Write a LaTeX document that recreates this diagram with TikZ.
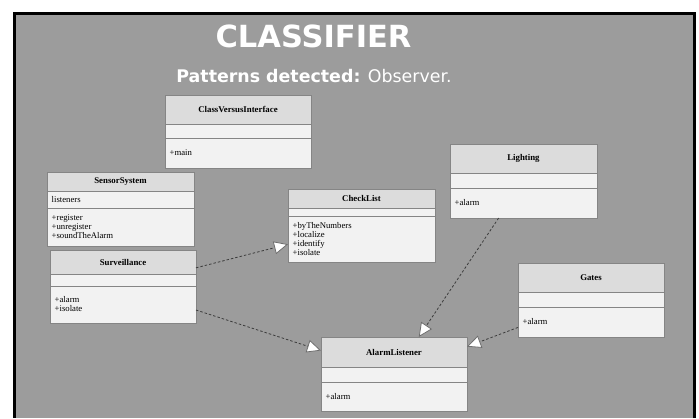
\documentclass[tikz,border=0pt]{standalone}
\usepackage{fontspec}
\setmainfont{Liberation Serif}
\newfontfamily\headfont{DejaVu Sans}
\usetikzlibrary{arrows.meta}

\definecolor{pagebg}{HTML}{9C9C9C}
\definecolor{headfill}{HTML}{DCDCDC}
\definecolor{partfill}{HTML}{F2F2F2}
\definecolor{boxline}{HTML}{858585}
\definecolor{linkline}{HTML}{3C3C3C}
\definecolor{tipline}{HTML}{6E6E6E}

\tikzset{
  umlbase/.style={rectangle, inner sep=0pt, outer sep=0pt, anchor=north west,
    draw=boxline, line width=0.8pt},
  umlhead/.style={umlbase, fill=headfill, font=\fontsize{8.8}{9}\selectfont\bfseries},
  umlpart/.style={umlbase, fill=partfill},
  umlouter/.style={rectangle, inner sep=0pt, outer sep=0pt, anchor=north west,
    draw=boxline, line width=0.8pt},
  umltext/.style={anchor=west, inner sep=0pt, align=left,
    font=\fontsize{8.7}{9}\selectfont},
  realize/.style={draw=linkline, line width=0.8pt, dash pattern=on 2.5pt off 2pt,
    -{Triangle[length=14pt, width=13pt, fill=white, color=tipline, line width=0.8pt]}},
}

% #1 name, #2 top-left corner, #3 width, #4/#5/#6 compartment heights,
% #7 class name, #8 attributes, #9 operations
\newcommand\umlclass[9]{%
  \pgfmathsetmacro\umltotal{#4+#5+#6}%
  \node[umlhead, minimum width=#3pt, minimum height=#4pt] (#1-h) at #2 {#7};
  \node[umlpart, minimum width=#3pt, minimum height=#5pt] (#1-a) at (#1-h.south west) {};
  \node[umlpart, minimum width=#3pt, minimum height=#6pt] (#1-m) at (#1-a.south west) {};
  \node[umltext] (#1-at) at ([xshift=4.5pt]#1-a.west) {#8};
  \node[umltext] (#1-mt) at ([xshift=4.5pt]#1-m.west) {#9};
  \node[umlouter, minimum width=#3pt, minimum height=\umltotal pt] (#1) at #2 {};
}

\begin{document}
\begin{tikzpicture}[x=1pt, y=-1pt]
  \useasboundingbox (0,0) rectangle (699,418);
  \fill[white] (0,0) rectangle (699,418);
  \fill[black] (13,12) rectangle (696,418);
  \fill[pagebg] (16,15) rectangle (693,418);

  % heading
  \node[text=white, font=\headfont\fontsize{30.5}{33}\selectfont\bfseries] (title) at (313.5,36) {CLASSIFIER};
  \node[text=white, font=\headfont\fontsize{17.4}{19}\selectfont] (subtitle) at (314,76)
    {\textbf{Patterns detected:} Observer.};

  % classes
  \umlclass{cvi}{(165,95)}{146}{29}{14}{30}{ClassVersusInterface}{}{+main}
  \umlclass{sensor}{(47,172)}{147}{19}{17}{38}{SensorSystem}{listeners}{+register\\+unregister\\+soundTheAlarm}
  \umlclass{surv}{(50,250)}{146}{24}{12}{37}{Surveillance}{}{+alarm\\+isolate}
  \umlclass{check}{(288,189)}{147}{19}{8}{46}{CheckList}{}{+byTheNumbers\\+localize\\+identify\\+isolate}
  \umlclass{light}{(450,144)}{147}{29}{15}{30}{Lighting}{}{+alarm}
  \umlclass{gates}{(518,263)}{146}{29}{15}{30}{Gates}{}{+alarm}
  \umlclass{alarm}{(321,337)}{146}{30}{15}{29}{AlarmListener}{}{+alarm}

  % realizations
  \draw[realize] (surv) -- (check);
  \draw[realize] (surv) -- (alarm);
  \draw[realize] (light) -- (alarm);
  \draw[realize] (gates) -- (alarm);
\end{tikzpicture}
\end{document}
